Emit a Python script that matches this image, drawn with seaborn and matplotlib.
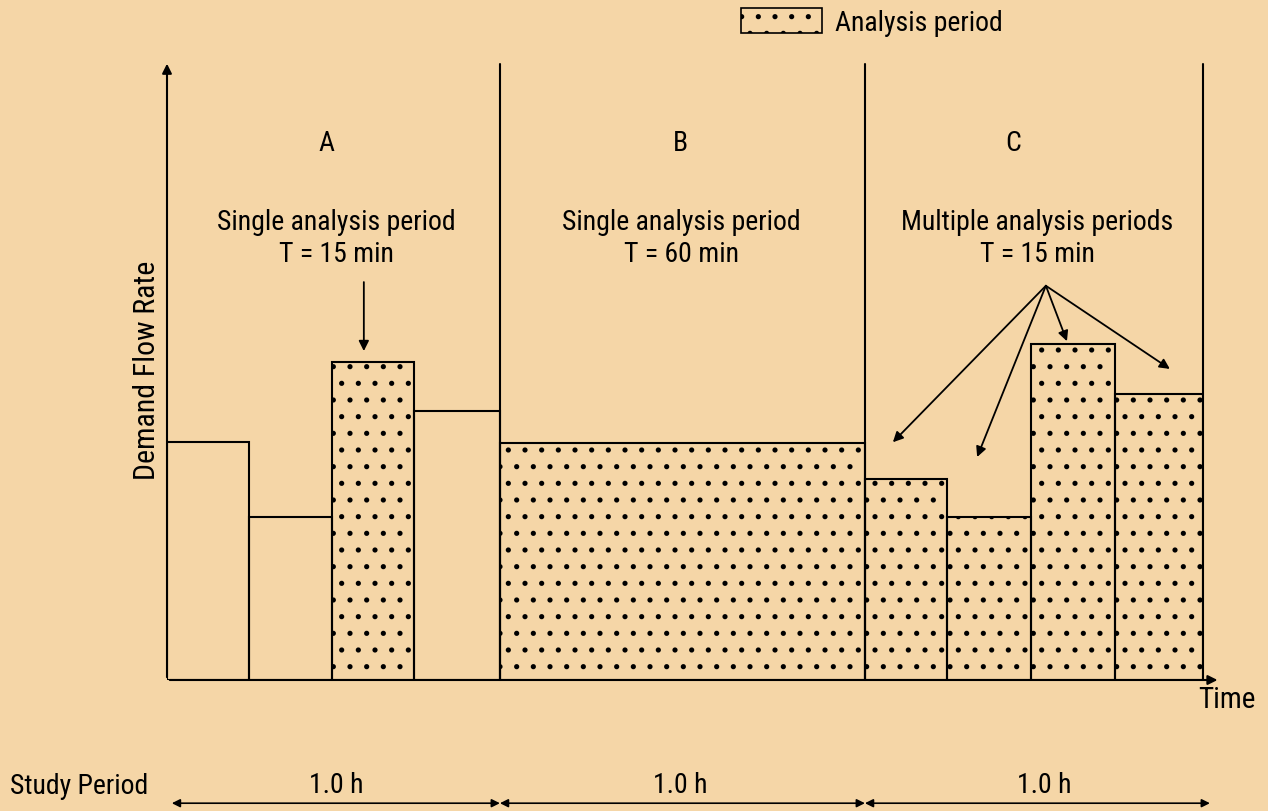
import matplotlib
matplotlib.use("Agg")
import matplotlib.pyplot as plt
from matplotlib.patches import Patch
import numpy as np
import seaborn as sns

# ---- data ----
period_edges_h = [0.0, 0.2375, 0.4778, 0.7153, 0.9643, 2.0212, 2.2587, 2.502, 2.745, 3.0]
demand_flow = [3.86, 2.65, 5.16, 4.37, 3.85, 3.26, 2.65, 5.45, 4.64]
is_analysis = [False, False, True, False, True, True, True, True, True]
section_names = ["A", "B", "C"]
section_desc = ["Single analysis period", "Single analysis period", "Multiple analysis periods"]
section_T = ["T = 15 min", "T = 60 min", "T = 15 min"]
study_labels = ["1.0 h", "1.0 h", "1.0 h"]
section_bounds = [0.0, 0.9643, 2.0212, 3.0]

BG = "#F5D6A7"
sns.set_theme(style="white")
plt.rcParams["font.family"] = ["Roboto Condensed", "Archivo Narrow", "PT Sans Narrow",
                               "IBM Plex Sans Condensed", "DejaVu Sans"]
plt.rcParams["font.weight"] = "normal"
plt.rcParams["text.color"] = "black"
plt.rcParams["hatch.linewidth"] = 1.3
plt.rcParams["hatch.color"] = "black"

W, H = 1268, 812
fig = plt.figure(figsize=(W / 100, H / 100), dpi=100)
fig.patch.set_facecolor(BG)
ax = fig.add_axes([167 / W, (H - 681) / H, (1203 - 167) / W, (681 - 65) / H])
ax.set_facecolor("none")

centers = [(period_edges_h[i] + period_edges_h[i + 1]) / 2 for i in range(len(period_edges_h) - 1)]
sns.histplot(x=centers, weights=demand_flow, bins=period_edges_h, stat="count",
             element="bars", fill=True, ax=ax, linewidth=1.5, edgecolor="black")
for p, flag in zip(ax.patches, is_analysis):
    p.set_facecolor("none")
    p.set_alpha(1)
    p.set_edgecolor("black")
    p.set_linewidth(1.5)
    if flag:
        p.set_hatch(".")

ax.set_xlim(0, 3)
ax.set_ylim(0, 10)
ax.set_xlabel("")
ax.set_ylabel("")
ax.set_xticks([])
ax.set_yticks([])
for s in ax.spines.values():
    s.set_visible(False)

# section dividers
for xb in section_bounds[1:]:
    ax.plot([xb, xb], [0, 10], color="black", lw=1.5, clip_on=False)

# axes arrows
ax.annotate("", xy=(0, 10.05), xytext=(0, 0), xycoords="data",
            arrowprops=dict(arrowstyle="-|>", color="black", lw=1.5, mutation_scale=14), annotation_clip=False)
ax.annotate("", xy=(3.05, 0), xytext=(0, 0), xycoords="data",
            arrowprops=dict(arrowstyle="-|>", color="black", lw=1.5, mutation_scale=14), annotation_clip=False)

fs = 20
name_x = [0.463, 1.486, 2.45]
desc_x = [0.49, 1.49, 2.52]
for i in range(3):
    ax.text(name_x[i], 8.73, section_names[i], ha="center", va="center", fontsize=fs, clip_on=False)
    ax.text(desc_x[i], 7.45, section_desc[i], ha="center", va="center", fontsize=fs)
    ax.text(desc_x[i], 6.93, section_T[i], ha="center", va="center", fontsize=fs)

# arrows to analysis periods
ap = dict(arrowstyle="-|>", color="black", lw=1.3, mutation_scale=15, shrinkA=0, shrinkB=0)
ax.annotate("", xy=(0.570, 5.34), xytext=(0.570, 6.46), arrowprops=ap)
origin = (2.545, 6.40)
for tgt in [(2.102, 3.86), (2.346, 3.62), (2.606, 5.50), (2.904, 5.05)]:
    ax.annotate("", xy=tgt, xytext=origin, arrowprops=ap)

# axis labels
ax.text(-0.058, 5.05, "Demand Flow Rate", rotation=90, ha="center", va="center", fontsize=21.5, clip_on=False)
ax.text(3.07, -0.31, "Time", ha="center", va="center", fontsize=21, clip_on=False)

# study period
fig.text(10 / W, 1 - 787 / H, "Study Period", ha="left", va="center", fontsize=fs)
study_x = [0.49, 1.486, 2.54]
for i in range(3):
    ax.text(study_x[i], -1.69, study_labels[i], ha="center", va="center", fontsize=fs, clip_on=False)
study_ends = [(0.014, 0.964), (0.964, 2.021), (2.021, 3.02)]
for a, b in study_ends:
    ax.annotate("", xy=(b, -2.0), xytext=(a, -2.0),
                arrowprops=dict(arrowstyle="<|-|>", color="black", lw=1.2, mutation_scale=12, shrinkA=0, shrinkB=0),
                annotation_clip=False)

# legend
handle = Patch(facecolor="none", edgecolor="black", hatch=".", linewidth=1.2, label="Analysis period")
fig.legend(handles=[handle], loc="center left", bbox_to_anchor=(741 / W, 1 - 23 / H),
           frameon=False, fontsize=fs, handlelength=2.9, handleheight=1.0, handletextpad=0.5,
           borderaxespad=0, borderpad=0)

fig.savefig("out.png", dpi=100, facecolor=BG)
